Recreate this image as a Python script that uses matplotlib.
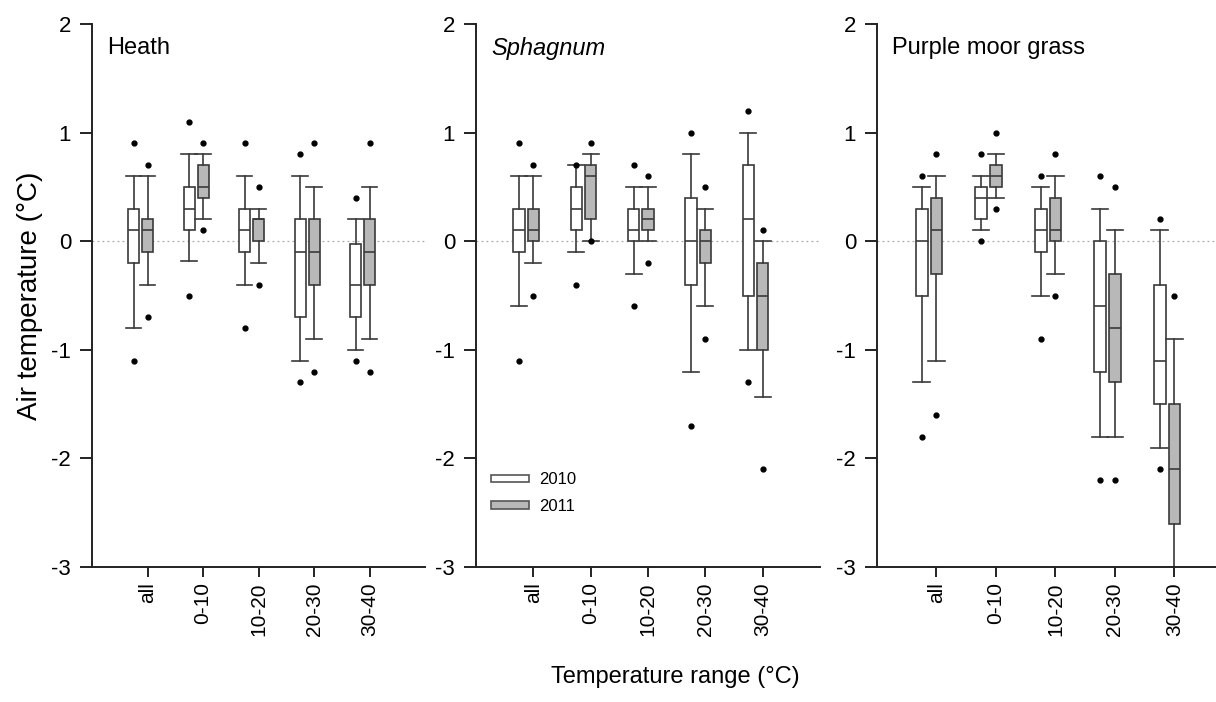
import matplotlib
matplotlib.use("Agg")
import matplotlib.pyplot as plt
from matplotlib.patches import Patch

plt.rcParams['font.family'] = ['Liberation Sans', 'DejaVu Sans']
plt.rcParams['axes.unicode_minus'] = False

categories = ['all', '0-10', '10-20', '20-30', '30-40']
panel_titles = ['Heath', 'Sphagnum', 'Purple moor grass']
years = ['2010', '2011']

# (whisker low, q1, median, q3, whisker high) per category
heath_2010 = [(-0.8, -0.2, 0.1, 0.3, 0.6), (-0.18, 0.1, 0.3, 0.5, 0.8), (-0.4, -0.1, 0.1, 0.3, 0.6),
              (-1.1, -0.7, -0.1, 0.2, 0.6), (-1.0, -0.7, -0.4, -0.03, 0.2)]
heath_2011 = [(-0.4, -0.1, 0.1, 0.2, 0.6), (0.2, 0.4, 0.5, 0.7, 0.8), (-0.2, 0.0, 0.2, 0.2, 0.3),
              (-0.9, -0.4, -0.1, 0.2, 0.5), (-0.9, -0.4, -0.1, 0.2, 0.5)]
sphag_2010 = [(-0.6, -0.1, 0.1, 0.3, 0.6), (-0.1, 0.1, 0.3, 0.5, 0.7), (-0.3, 0.0, 0.1, 0.3, 0.5),
              (-1.2, -0.4, 0.0, 0.4, 0.8), (-1.0, -0.5, 0.2, 0.7, 1.0)]
sphag_2011 = [(-0.2, 0.0, 0.1, 0.3, 0.6), (0.0, 0.2, 0.6, 0.7, 0.8), (0.0, 0.1, 0.2, 0.3, 0.5),
              (-0.6, -0.2, 0.0, 0.1, 0.3), (-1.43, -1.0, -0.5, -0.2, 0.0)]
moor_2010 = [(-1.3, -0.5, 0.0, 0.3, 0.5), (0.1, 0.2, 0.4, 0.5, 0.6), (-0.5, -0.1, 0.1, 0.3, 0.5),
             (-1.8, -1.2, -0.6, 0.0, 0.3), (-1.9, -1.5, -1.1, -0.4, 0.1)]
moor_2011 = [(-1.1, -0.3, 0.1, 0.4, 0.6), (0.4, 0.5, 0.6, 0.7, 0.8), (-0.3, 0.0, 0.1, 0.4, 0.6),
             (-1.8, -1.3, -0.8, -0.3, 0.1), (-3.3, -2.6, -2.1, -1.5, -0.9)]

# outlying points per category
heath_2010_out = [(0.9, -1.1), (1.1, -0.5), (0.9, -0.8), (0.8, -1.3), (0.4, -1.1)]
heath_2011_out = [(0.7, -0.7), (0.9, 0.1), (0.5, -0.4), (0.9, -1.2), (0.9, -1.2)]
sphag_2010_out = [(0.9, -1.1), (0.7, -0.4), (0.7, -0.6), (1.0, -1.7), (1.2, -1.3)]
sphag_2011_out = [(0.7, -0.5), (0.9, 0.0), (0.6, -0.2), (0.5, -0.9), (0.1, -2.1)]
moor_2010_out = [(0.6, -1.8), (0.8, 0.0), (0.6, -0.9), (0.6, -2.2), (0.2, -2.1)]
moor_2011_out = [(0.8, -1.6), (1.0, 0.3), (0.8, -0.5), (0.5, -2.2), (-0.5,)]

panels = [(heath_2010, heath_2010_out, heath_2011, heath_2011_out),
          (sphag_2010, sphag_2010_out, sphag_2011, sphag_2011_out),
          (moor_2010, moor_2010_out, moor_2011, moor_2011_out)]

line_col = '#3a3a3a'
fills = ['white', '#b8b8b8']
offsets = [-0.25, 0.0]

fig = plt.figure(figsize=(12.16, 7.02), dpi=100)
rects = [[0.0757, 0.1923, 0.2739, 0.7735],
         [0.3914, 0.1923, 0.2829, 0.7735],
         [0.7212, 0.1923, 0.2936, 0.7735]]


def make_stats(five, outs):
    stats = []
    for (lo, q1, med, q3, hi), fl in zip(five, outs):
        stats.append(dict(whislo=lo, q1=q1, med=med, q3=q3, whishi=hi, fliers=list(fl)))
    return stats


for i, (rect, data) in enumerate(zip(rects, panels)):
    ax = fig.add_axes(rect)
    ax.axhline(0, color='#aaaaaa', lw=0.9, ls=(0, (1.5, 2.5)), zorder=0)
    for k in range(2):
        five, outs = data[2 * k], data[2 * k + 1]
        pos = [j + 1 + offsets[k] for j in range(len(categories))]
        ax.bxp(make_stats(five, outs), positions=pos, widths=0.2, capwidths=0.28,
               patch_artist=True, manage_ticks=False,
               boxprops=dict(facecolor=fills[k], edgecolor=line_col, linewidth=1.2),
               medianprops=dict(color=line_col, linewidth=1.2),
               whiskerprops=dict(color=line_col, linewidth=1.2),
               capprops=dict(color=line_col, linewidth=1.2),
               flierprops=dict(marker='o', markerfacecolor='black', markeredgecolor='black',
                               markersize=3.5, linestyle='none'))
    ax.set_xlim(0, 6)
    ax.set_ylim(-3, 2)
    ax.set_yticks([-3, -2, -1, 0, 1, 2])
    ax.set_xticks(range(1, len(categories) + 1))
    ax.set_xticklabels(categories, rotation=90)
    for s in ['top', 'right']:
        ax.spines[s].set_visible(False)
    for s in ['left', 'bottom']:
        ax.spines[s].set_linewidth(1.4)
        ax.spines[s].set_color('#222222')
    ax.tick_params(axis='y', length=9, width=1.4, labelsize=16, color='#222222', pad=6)
    ax.tick_params(axis='x', length=7, width=1.4, labelsize=15, color='#222222', pad=4)
    style = 'italic' if panel_titles[i] == 'Sphagnum' else 'normal'
    ax.annotate(panel_titles[i], xy=(0, 1), xycoords='axes fraction', xytext=(11, -9),
                textcoords='offset points', ha='left', va='top', fontsize=17, style=style)
    if i == 0:
        ax.set_ylabel('Air temperature (°C)', fontsize=20, labelpad=6)
    if i == 1:
        handles = [Patch(facecolor=fills[k], edgecolor='#555555', linewidth=1.2) for k in range(2)]
        ax.legend(handles, years, loc='lower left', bbox_to_anchor=(0.0, 0.07), frameon=False,
                  fontsize=12, handlelength=2.3, handleheight=0.3, handletextpad=0.6,
                  labelspacing=0.7)

fig.text(0.555, 0.02, 'Temperature range (°C)', ha='center', va='bottom', fontsize=17)

fig.savefig('out.png', dpi=100)
